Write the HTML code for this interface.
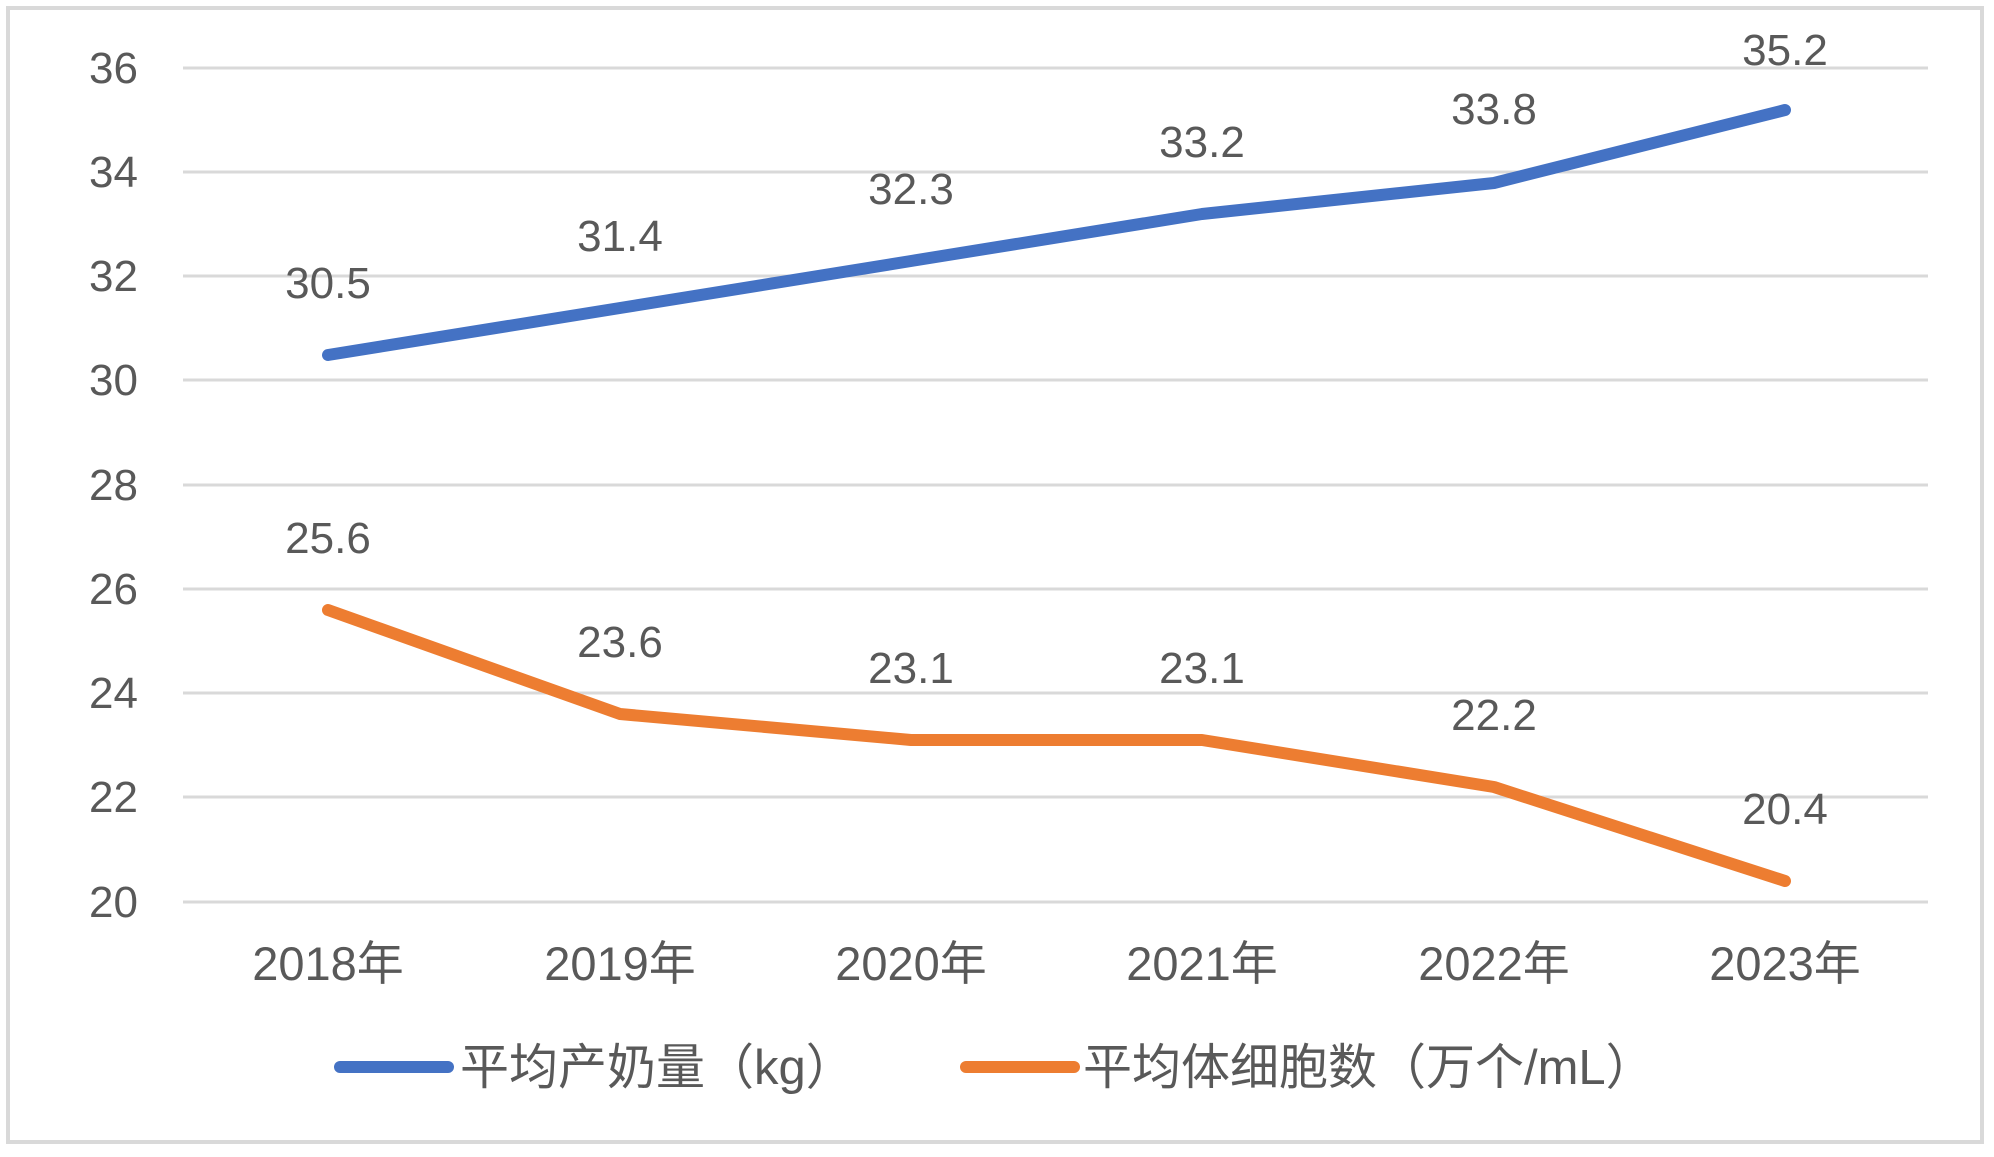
<!DOCTYPE html>
<html><head><meta charset="utf-8"><style>
body{margin:0;background:#fff}
text{font-family:"Liberation Sans","Noto Sans CJK SC",sans-serif;fill:#595959}
</style></head><body>
<svg width="1994" height="1152" xmlns="http://www.w3.org/2000/svg">
<rect x="8" y="8" width="1974" height="1134" fill="#fff" stroke="#d9d9d9" stroke-width="4"/>
<g stroke="#d9d9d9" stroke-width="3">
<line x1="183" x2="1928" y1="68" y2="68"/><line x1="183" x2="1928" y1="172" y2="172"/>
<line x1="183" x2="1928" y1="276" y2="276"/><line x1="183" x2="1928" y1="380" y2="380"/>
<line x1="183" x2="1928" y1="485" y2="485"/><line x1="183" x2="1928" y1="589" y2="589"/>
<line x1="183" x2="1928" y1="693" y2="693"/><line x1="183" x2="1928" y1="797" y2="797"/>
<line x1="183" x2="1928" y1="902" y2="902"/>
</g>
<g font-size="44" text-anchor="end">
<text x="138" y="83">36</text><text x="138" y="187">34</text><text x="138" y="291">32</text>
<text x="138" y="395">30</text><text x="138" y="500">28</text><text x="138" y="604">26</text>
<text x="138" y="708">24</text><text x="138" y="812">22</text><text x="138" y="917">20</text>
</g>
<polyline fill="none" stroke="#4472C4" stroke-width="12" stroke-linecap="round" stroke-linejoin="round"
points="328,355 620,308 911,261 1202,214 1494,183 1785,110"/>
<polyline fill="none" stroke="#ED7D31" stroke-width="12" stroke-linecap="round" stroke-linejoin="round"
points="328,610 620,714 911,740 1202,740 1494,787 1785,881"/>
<g font-size="44" text-anchor="middle">
<text x="328" y="298">30.5</text><text x="620" y="251">31.4</text><text x="911" y="204">32.3</text>
<text x="1202" y="157">33.2</text><text x="1494" y="124">33.8</text><text x="1785" y="65">35.2</text>
<text x="328" y="553">25.6</text><text x="620" y="657">23.6</text><text x="911" y="683">23.1</text>
<text x="1202" y="683">23.1</text><text x="1494" y="730">22.2</text><text x="1785" y="824">20.4</text>
</g>
<g font-size="47" text-anchor="middle">
<text x="328" y="980">2018年</text><text x="620" y="980">2019年</text><text x="911" y="980">2020年</text>
<text x="1202" y="980">2021年</text><text x="1494" y="980">2022年</text><text x="1785" y="980">2023年</text>
</g>
<line x1="340" x2="448" y1="1067" y2="1067" stroke="#4472C4" stroke-width="12" stroke-linecap="round"/>
<text x="460" y="1084" font-size="49">平均产奶量（kg）</text>
<line x1="966" x2="1074" y1="1067" y2="1067" stroke="#ED7D31" stroke-width="12" stroke-linecap="round"/>
<text x="1083" y="1084" font-size="49">平均体细胞数（万个/mL）</text>
</svg>
</body></html>
